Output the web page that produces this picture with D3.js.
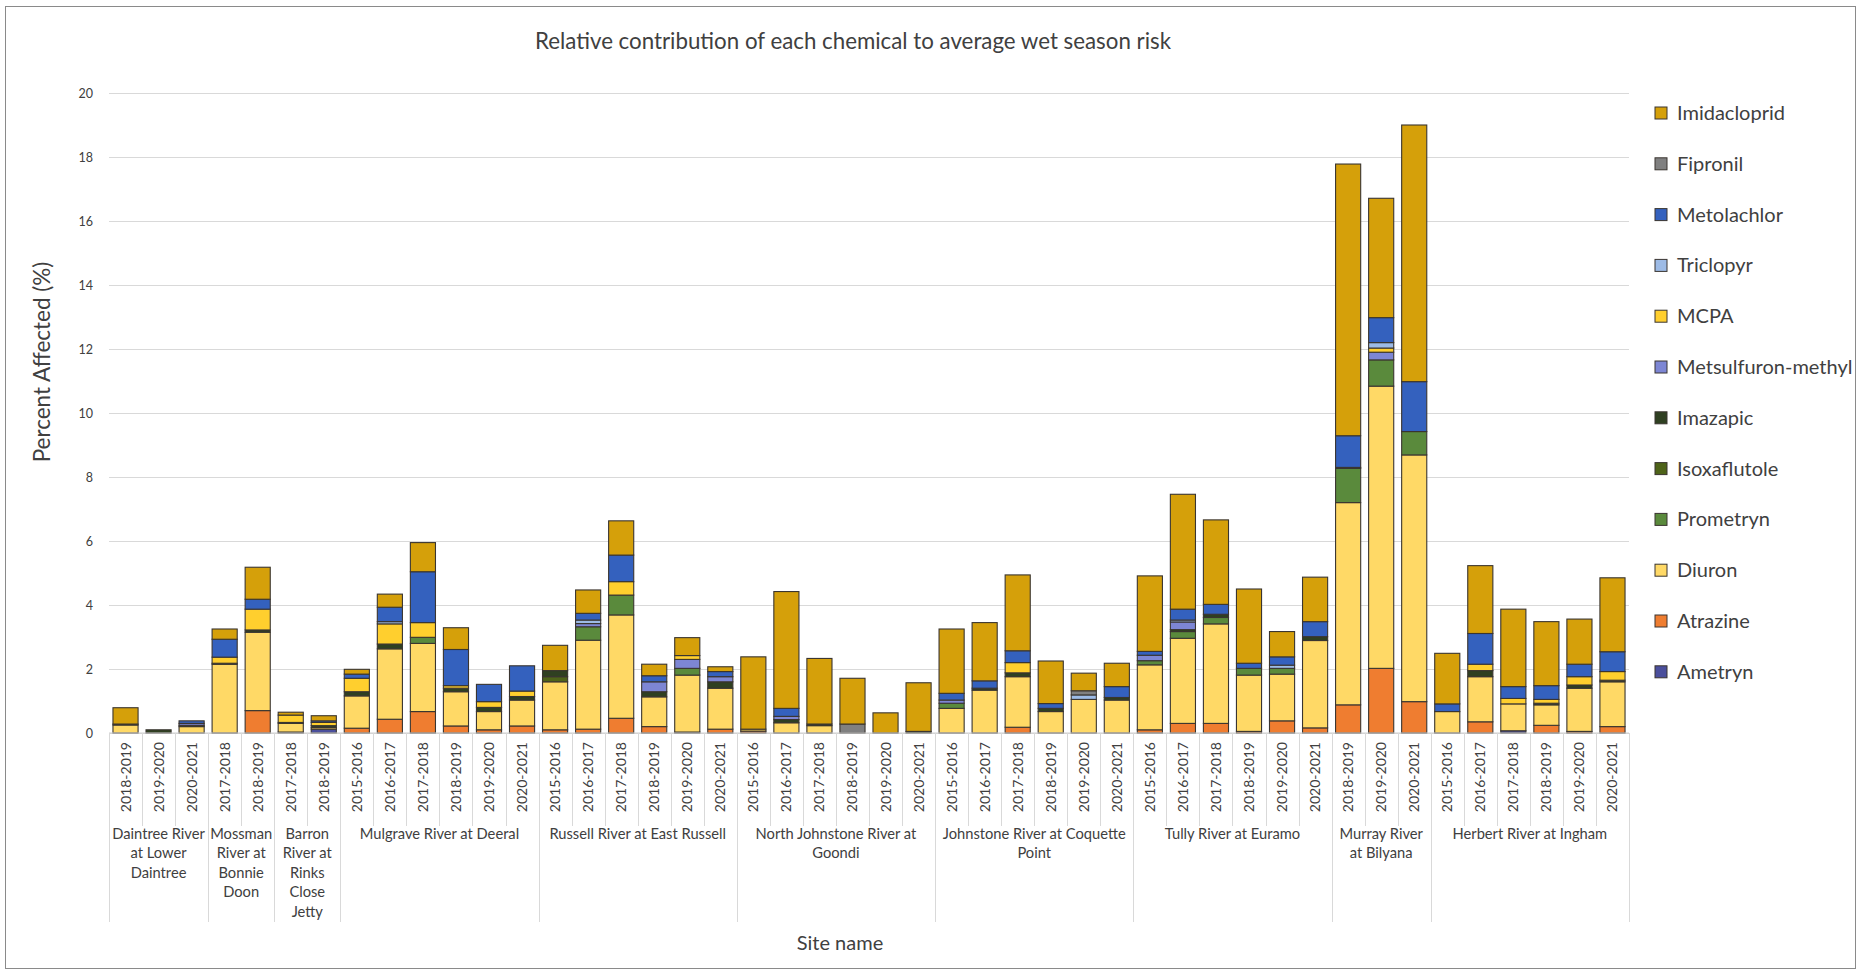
<!DOCTYPE html>
<html>
<head>
<meta charset="utf-8">
<script src="https://cdn.jsdelivr.net/npm/d3@7"></script>
<style>
  body { margin: 0; background: #fff; }
  svg text { font-family: Lato, "Open Sans", "DejaVu Sans", sans-serif; fill: #404040; }
</style>
</head>
<body>
<svg id="chart" width="1861" height="973"></svg>
<script>
// Monitoring sites (second axis level), wrapped as drawn, with number of seasons
const siteLines = [
  ["Daintree River", "at Lower", "Daintree"],
  ["Mossman", "River at", "Bonnie", "Doon"],
  ["Barron", "River at", "Rinks", "Close", "Jetty"],
  ["Mulgrave River at Deeral"],
  ["Russell River at East Russell"],
  ["North Johnstone River at", "Goondi"],
  ["Johnstone River at Coquette", "Point"],
  ["Tully River at Euramo"],
  ["Murray River", "at Bilyana"],
  ["Herbert River at Ingham"]
];
const siteSeasons = [
  ["2018-2019", "2019-2020", "2020-2021"],
  ["2017-2018", "2018-2019"],
  ["2017-2018", "2018-2019"],
  ["2015-2016", "2016-2017", "2017-2018", "2018-2019", "2019-2020", "2020-2021"],
  ["2015-2016", "2016-2017", "2017-2018", "2018-2019", "2019-2020", "2020-2021"],
  ["2015-2016", "2016-2017", "2017-2018", "2018-2019", "2019-2020", "2020-2021"],
  ["2015-2016", "2016-2017", "2017-2018", "2018-2019", "2019-2020", "2020-2021"],
  ["2015-2016", "2016-2017", "2017-2018", "2018-2019", "2019-2020", "2020-2021"],
  ["2018-2019", "2019-2020", "2020-2021"],
  ["2015-2016", "2016-2017", "2017-2018", "2018-2019", "2019-2020", "2020-2021"]
];

// Percent affected contributed by each chemical, one value per site-season (46 columns)
const ametryn = [0,0,0, 0,0, 0,0.12, 0,0,0,0,0,0, 0,0,0,0,0,0, 0,0,0,0,0,0, 0,0,0,0,0,0, 0,0,0,0,0,0, 0,0,0, 0,0,0.07,0,0,0];
const atrazine = [0,0,0, 0,0.7, 0.03,0, 0.15,0.43,0.67,0.22,0.1,0.22, 0.1,0.12,0.46,0.2,0.03,0.12, 0.06,0,0,0,0,0, 0,0,0.18,0,0,0, 0.1,0.3,0.3,0.05,0.38,0.16, 0.88,2.02,0.98, 0,0.35,0,0.24,0.05,0.2];
const diuron = [0.25,0,0.2, 2.15,2.45, 0.27,0.05, 1.01,2.2,2.13,1.07,0.57,0.81, 1.5,2.78,3.23,0.93,1.78,1.28, 0.06,0.32,0.23,0,0,0, 0.77,1.34,1.58,0.67,1.05,1.03, 2.03,2.66,3.11,1.76,1.46,2.73, 6.32,8.82,7.71, 0.67,1.41,0.84,0.64,1.35,1.4];
const prometryn = [0,0,0, 0,0, 0,0, 0,0,0.19,0,0,0, 0,0.42,0.62,0,0.21,0, 0,0,0,0,0,0, 0.16,0,0,0,0,0, 0.13,0.21,0.2,0.21,0.18,0, 1.07,0.82,0.73, 0,0,0,0,0,0];
const isoxaflutole = [0,0,0, 0,0, 0,0, 0,0,0,0,0,0, 0.16,0,0,0,0,0, 0,0,0,0,0,0, 0,0,0,0,0,0, 0,0,0,0,0,0, 0,0,0, 0,0,0,0,0,0];
const imazapic = [0.03,0.1,0.04, 0.03,0.07, 0.03,0.06, 0.13,0.15,0,0.11,0.13,0.11, 0.19,0,0,0.16,0,0.2, 0,0.1,0.05,0,0,0.05, 0,0.06,0.12,0.1,0,0.08, 0,0.06,0.1,0,0,0.12, 0.03,0,0, 0,0.19,0,0.05,0.1,0.05];
const metsulfuron = [0,0,0.06, 0,0, 0,0, 0,0,0,0,0,0, 0,0.1,0,0.31,0.28,0.16, 0,0.1,0,0,0,0, 0.1,0,0,0,0,0, 0.17,0.24,0,0,0,0, 0,0.24,0, 0,0,0,0,0,0];
const mcpa = [0,0,0, 0.19,0.65, 0.23,0.1, 0.42,0.63,0.46,0.08,0.18,0.17, 0,0,0.42,0,0.12,0, 0,0,0,0,0,0, 0,0,0.32,0,0,0, 0,0,0,0,0,0, 0,0.13,0, 0,0.2,0.17,0.12,0.26,0.27];
const triclopyr = [0,0,0, 0,0, 0,0, 0,0.07,0,0,0,0, 0,0.11,0,0,0,0, 0,0,0,0,0,0, 0,0,0,0,0.14,0, 0,0.06,0,0,0.1,0, 0,0.17,0, 0,0,0,0,0,0];
const metolachlor = [0,0,0.08, 0.56,0.31, 0,0.05, 0.13,0.45,1.59,1.13,0.54,0.79, 0,0.21,0.83,0.19,0,0.16, 0,0.25,0,0,0,0, 0.21,0.23,0.37,0.15,0,0.34, 0.12,0.34,0.31,0.16,0.26,0.47, 0.99,0.78,1.56, 0.24,0.96,0.37,0.43,0.39,0.62];
const fipronil = [0,0,0, 0,0, 0,0, 0,0,0,0,0,0, 0,0,0,0,0,0, 0,0,0,0.28,0,0, 0,0,0,0,0.13,0, 0,0,0,0,0,0, 0,0,0, 0,0,0,0,0,0];
const imidacloprid = [0.51,0,0, 0.32,1.0, 0.09,0.16, 0.15,0.41,0.91,0.68,0,0, 0.79,0.73,1.07,0.36,0.56,0.15, 2.26,3.65,2.05,1.43,0.63,1.52, 2.01,1.82,2.37,1.33,0.55,0.73, 2.36,3.59,2.64,2.32,0.79,1.39, 8.49,3.73,8.02, 1.58,2.12,2.42,2.0,1.41,2.31];

// Stacking order, bottom to top
const chemicals = ["Ametryn", "Atrazine", "Diuron", "Prometryn", "Isoxaflutole", "Imazapic",
  "Metsulfuron-methyl", "MCPA", "Triclopyr", "Metolachlor", "Fipronil", "Imidacloprid"];
const chemicalValues = [ametryn, atrazine, diuron, prometryn, isoxaflutole, imazapic,
  metsulfuron, mcpa, triclopyr, metolachlor, fipronil, imidacloprid];
const chemicalColors = ["#4b4f9c", "#ef7d30", "#ffd966", "#5a8a3c", "#4e6319", "#2f4021",
  "#7d86d4", "#ffcf2e", "#9dbbe6", "#3461be", "#808080", "#d5a00a"];
const yTicks = [0, 2, 4, 6, 8, 10, 12, 14, 16, 18, 20];

// Flatten to one row per column of the chart
const rows = [];
siteSeasons.forEach((seasons, s) => seasons.forEach(season => {
  rows.push({ key: s + "|" + season, site: s, season });
}));
rows.forEach((r, i) => chemicals.forEach((c, k) => { r[c] = chemicalValues[k][i]; }));

const svg = d3.select("#chart");
const W = 1861, H = 973;
const plot = { left: 109, right: 1629, top: 93, bottom: 733 };

// Outer frame
svg.append("rect").attr("x", 5.5).attr("y", 6.5).attr("width", W - 11).attr("height", H - 11)
  .attr("fill", "#fff").attr("stroke", "#8a8a8a").attr("stroke-width", 1);

const x = d3.scaleBand().domain(rows.map(r => r.key))
  .range([plot.left, plot.right]).paddingInner(0.24).paddingOuter(0.12);
const y = d3.scaleLinear().domain([0, 20]).range([plot.bottom, plot.top]);

// Gridlines and y labels
const yAxis = d3.axisLeft(y).tickValues(yTicks).tickSize(-(plot.right - plot.left)).tickPadding(16);
const gy = svg.append("g").attr("transform", `translate(${plot.left},0)`).call(yAxis);
gy.select(".domain").remove();
gy.selectAll(".tick line").attr("stroke", "#d9d9d9").attr("stroke-width", 1.2);
gy.selectAll(".tick text").attr("font-size", 12.5).attr("fill", "#404040");

// Stacked bars
const stack = d3.stack().keys(chemicals);
const series = stack(rows);
svg.append("g").selectAll("g").data(series).join("g")
  .attr("fill", (d, i) => chemicalColors[i])
  .selectAll("rect").data(d => d.filter(p => p[1] - p[0] > 0)).join("rect")
  .attr("x", d => x(d.data.key))
  .attr("width", x.bandwidth())
  .attr("y", d => y(d[1]))
  .attr("height", d => y(d[0]) - y(d[1]))
  .attr("stroke", "#3a3530").attr("stroke-width", 1.1);

// Category axis: baseline, season labels, site labels and separators
const step = x.step();
const gx = svg.append("g");
gx.append("line").attr("x1", plot.left).attr("x2", plot.right)
  .attr("y1", plot.bottom).attr("y2", plot.bottom).attr("stroke", "#d0d0d0").attr("stroke-width", 1.2);

rows.forEach((r, i) => {
  const cx = x(r.key) + x.bandwidth() / 2;
  gx.append("text").attr("transform", `translate(${cx + 5},${plot.bottom + 9}) rotate(-90)`)
    .attr("text-anchor", "end").attr("font-size", 14).attr("fill", "#262626").text(r.season);
});

// Separator lines at column boundaries; longer at site boundaries
let idx = 0;
const boundaries = [0];
siteSeasons.forEach(s => { idx += s.length; boundaries.push(idx); });
const colEdge = i => plot.left + x.paddingOuter() * step + i * step - (x.paddingInner() * step) / 2;
for (let i = 0; i <= rows.length; i++) {
  const isSite = boundaries.includes(i);
  const bx = Math.round(i === 0 ? plot.left : i === rows.length ? plot.right : colEdge(i)) + 0.5;
  gx.append("line").attr("x1", bx).attr("x2", bx)
    .attr("y1", plot.bottom).attr("y2", isSite ? 922 : 826)
    .attr("stroke", "#d9d9d9").attr("stroke-width", 1);
}

siteLines.forEach((lines, s) => {
  const first = rows.findIndex(r => r.site === s);
  const last = first + siteSeasons[s].length - 1;
  const cx = (x(rows[first].key) + x(rows[last].key) + x.bandwidth()) / 2;
  const t = gx.append("text").attr("text-anchor", "middle").attr("font-size", 14.7).attr("fill", "#262626");
  lines.forEach((ln, j) => t.append("tspan").attr("x", cx).attr("y", 839 + j * 19.4).text(ln));
});

// Titles
svg.append("text").attr("x", 853).attr("y", 49).attr("text-anchor", "middle")
  .attr("font-size", 22.3).attr("fill", "#262626")
  .text("Relative contribution of each chemical to average wet season risk");
svg.append("text").attr("transform", "translate(50,362) rotate(-90)").attr("text-anchor", "middle")
  .attr("font-size", 22.5).attr("fill", "#262626").text("Percent Affected (%)");
svg.append("text").attr("x", 840).attr("y", 950).attr("text-anchor", "middle")
  .attr("font-size", 20).attr("fill", "#262626").text("Site name");

// Legend, listed top of stack first
const legendItems = chemicals.map((c, i) => ({ name: c, color: chemicalColors[i] })).reverse();
const lg = svg.append("g");
legendItems.forEach((d, i) => {
  const ly = 113 + i * 50.8;
  lg.append("rect").attr("x", 1655).attr("y", ly - 6).attr("width", 12).attr("height", 12)
    .attr("fill", d.color).attr("stroke", "#3a3530").attr("stroke-width", 1);
  lg.append("text").attr("x", 1677).attr("y", ly + 7).attr("font-size", 20)
    .attr("fill", "#404040").text(d.name);
});
</script>
</body>
</html>
